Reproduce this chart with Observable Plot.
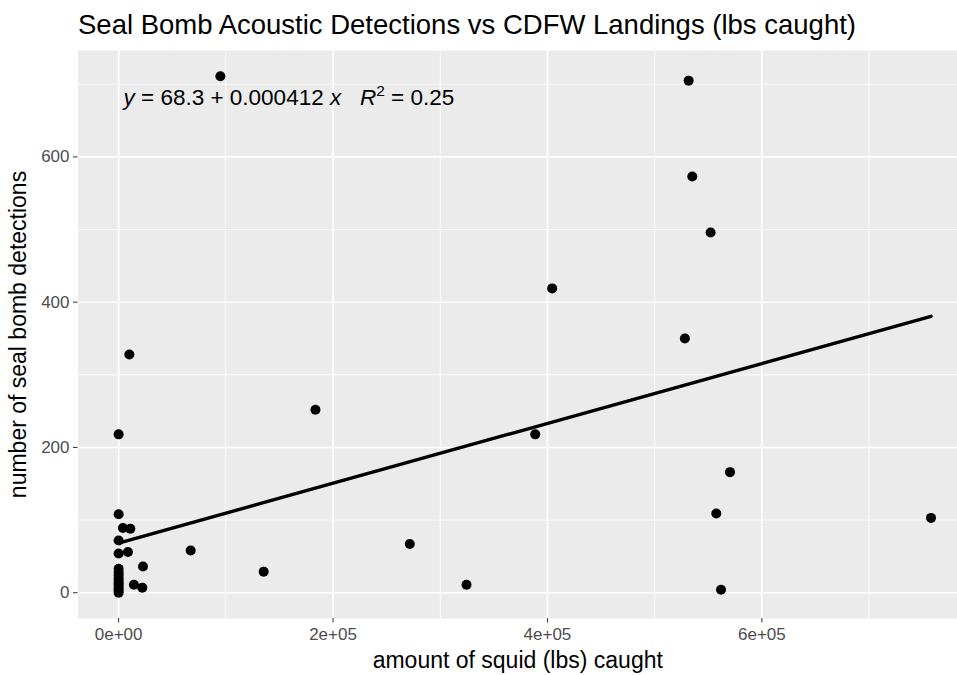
<!DOCTYPE html>
<html>
<head>
<meta charset="utf-8">
<script src="https://cdn.jsdelivr.net/npm/d3@7"></script>
<script src="https://cdn.jsdelivr.net/npm/@observablehq/plot@0.6"></script>
<style>
  body { margin: 0; background: white; font-family: "Liberation Sans", Arial, sans-serif; }
  #wrap { position: relative; width: 957px; height: 675px; }
  #title { position: absolute; left: 78px; top: 11px; font-size: 27.5px; line-height: 1; color: #000; white-space: nowrap; }
  #chart { position: absolute; left: 0; top: 50px; }
</style>
</head>
<body>
<div id="wrap">
  <div id="title">Seal Bomb Acoustic Detections vs CDFW Landings (lbs caught)</div>
  <div id="chart"></div>
</div>
<script>
// ---- data ----
const squidLbs = [
  94900, 531700, 535100, 552200, 528200, 570300, 557500, 561900, 757800,
  183600, 404400, 388600, 271600, 324500, 135300, 67200,
  10000, 0, 0, 4000, 10900, 0, 0, 8700, 22700, 14300, 22100,
  0, 0, 0, 0, 0, 0, 0, 0, 0, 0
];
const detections = [
  711, 705, 573, 496, 350, 166, 109, 4, 103,
  252, 419, 218, 67, 11, 29, 58,
  328, 218, 108, 89, 88, 72, 54, 56, 36, 11, 7,
  33, 28, 24, 20, 16, 13, 10, 6, 3, 0
];
const fitIntercept = 68.3;
const fitSlope = 0.000412;
const eqLabel = "y = 68.3 + 0.000412 x   R2 = 0.25";
const xMajor = [0, 200000, 400000, 600000];
const xMinor = [100000, 300000, 500000, 700000];
const xTickLabels = ["0e+00", "2e+05", "4e+05", "6e+05"];
const yMajor = [0, 200, 400, 600];
const yMinor = [100, 300, 500, 700];
const yTickLabels = ["0", "200", "400", "600"];
const xTitle = "amount of squid (lbs) caught";
const yTitle = "number of seal bomb detections";

const points = squidLbs.map((x, i) => ({x, y: detections[i]}));
const xMax = d3.max(squidLbs), xMin = d3.min(squidLbs);
const fitLine = [xMin, xMax].map(x => ({x, y: fitIntercept + fitSlope * x}));

const plot = Plot.plot({
  width: 957,
  height: 625,
  marginLeft: 77.5,
  marginRight: 0,
  marginTop: 0,
  marginBottom: 57,
  style: {fontFamily: "'Liberation Sans', Arial, sans-serif", background: "white"},
  x: {domain: [-37900, 782500]},
  y: {domain: [-35.5, 746.5]},
  marks: [
    Plot.frame({fill: "#ebebeb", stroke: null}),
    Plot.gridX(xMinor, {stroke: "white", strokeOpacity: 1, strokeWidth: 0.8}),
    Plot.gridY(yMinor, {stroke: "white", strokeOpacity: 1, strokeWidth: 0.8}),
    Plot.gridX(xMajor, {stroke: "white", strokeOpacity: 1, strokeWidth: 1.6}),
    Plot.gridY(yMajor, {stroke: "white", strokeOpacity: 1, strokeWidth: 1.6}),
    Plot.axisX(xMajor, {
      tickSize: 4.5, tickPadding: 5, stroke: "#333", fill: "#4d4d4d",
      fontSize: 17, tickFormat: (d, i) => xTickLabels[i], label: null
    }),
    Plot.axisY(yMajor, {
      tickSize: 4.5, tickPadding: 4, stroke: "#333", fill: "#4d4d4d",
      fontSize: 17, tickFormat: (d, i) => yTickLabels[i], label: null
    }),
    Plot.text([xTitle], {frameAnchor: "bottom", dy: 49, fontSize: 23, fill: "#000"}),
    Plot.text([yTitle], {frameAnchor: "left", dx: -59, rotate: -90, textAnchor: "middle", fontSize: 23, fill: "#000"}),
    Plot.line(fitLine, {x: "x", y: "y", stroke: "black", strokeWidth: 3.4}),
    Plot.dot(points, {x: "x", y: "y", r: 5, fill: "black", stroke: null}),
    Plot.text([eqLabel], {frameAnchor: "top-left", dx: 45.5, dy: 39, textAnchor: "start", fontSize: 22.5, fill: "#000"})
  ]
});
document.getElementById("chart").appendChild(plot);

// rich formatting of the equation label (italics and superscript)
d3.select(plot).selectAll("text").filter(function () { return this.textContent === eqLabel; })
  .each(function () {
    const t = d3.select(this);
    t.text(null);
    const parts = [
      ["y", "italic"], [" = 68.3 + 0.000412 ", null], ["x", "italic"], ["   ", null],
      ["R", "italic"], ["2", "sup"], [" = 0.25", null]
    ];
    for (const [s, k] of parts) {
      const ts = t.append("tspan").text(s);
      if (k === "italic") ts.attr("font-style", "italic");
      if (k === "sup") ts.attr("font-size", 15.5).attr("dy", -9);
      if (s === " = 0.25") ts.attr("dy", 9);
    }
  });
</script>
</body>
</html>
